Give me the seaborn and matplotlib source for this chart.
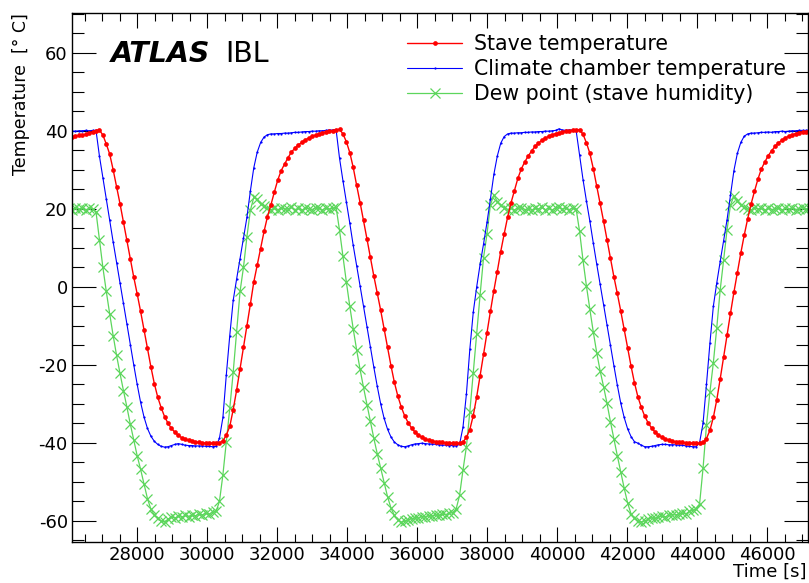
import numpy as np
import pandas as pd
import matplotlib
matplotlib.use("Agg")
import matplotlib.pyplot as plt
import seaborn as sns
from matplotlib.ticker import MultipleLocator, StrMethodFormatter

# --- logger clock (one sample every 98 s) ---
TIME_START = 26036
TIME_STEP = 98

# stave temperature [deg C]
STAVE = [
    38.3, 38.5, 38.6, 38.8, 38.9, 39.1, 39.4, 39.7,
    # cycle 1
    40.0, 40.2, 38.9, 36.6, 34.0, 30.0, 25.6, 21.3, 16.6, 12.0,
    7.2, 2.5, -1.8, -6.3, -11.0, -15.8, -20.5, -24.8, -28.3, -31.0,
    -33.3, -35.0, -36.3, -37.3, -38.1, -38.7, -39.1, -39.4, -39.6, -39.8,
    -39.9, -40.0, -40.1, -40.1, -40.1, -40.1, -40.0, -39.5, -38.0, -35.8,
    -31.5, -26.5, -21.0, -15.5, -10.0, -4.5, 1.2, 5.5, 9.8, 14.2,
    18.0, 21.0, 24.3, 27.4, 29.8, 31.5, 33.1, 34.6, 35.5, 36.4,
    37.0, 37.7, 38.1, 38.6, 38.9, 39.2, 39.5, 39.7, 39.9, 40.0,
    # cycle 2
    40.2, 40.4, 39.2, 37.2, 34.4, 30.6, 26.0, 21.6, 17.0, 12.3,
    7.6, 2.8, -1.6, -6.0, -10.8, -15.5, -20.2, -24.5, -28.0, -30.8,
    -33.1, -34.8, -36.2, -37.2, -38.0, -38.6, -39.0, -39.3, -39.5, -39.7,
    -39.8, -39.9, -40.0, -40.0, -40.1, -40.1, -40.1, -39.8, -38.6, -36.6,
    -33.0, -28.2, -22.8, -17.3, -11.8, -6.3, -1.0, 3.9, 9.0, 13.5,
    17.8, 21.5, 24.6, 27.8, 30.2, 32.0, 33.5, 34.8, 36.0, 36.8,
    37.6, 38.1, 38.6, 39.0, 39.3, 39.5, 39.7, 39.9, 40.0, 40.1,
    # cycle 3
    40.2, 40.3, 39.1, 36.9, 34.2, 30.3, 25.8, 21.4, 16.8, 12.1,
    7.4, 2.6, -1.7, -6.2, -10.9, -15.6, -20.3, -24.6, -28.2, -30.9,
    -33.2, -34.9, -36.2, -37.2, -38.0, -38.6, -39.0, -39.3, -39.6, -39.7,
    -39.8, -39.9, -40.0, -40.0, -40.1, -40.1, -40.1, -39.9, -38.9, -36.8,
    -33.5, -29.0, -23.6, -18.0, -12.4, -6.8, -1.4, 3.6, 8.6, 13.2,
    17.4, 21.2, 24.5, 27.6, 30.2, 32.0, 33.6, 34.9, 36.0, 36.9,
    37.6, 38.2, 38.6, 39.0, 39.3, 39.5, 39.7, 39.8, 39.9,
]

# climate chamber temperature [deg C]
CHAMBER = [
    39.8, 39.9, 39.9, 40.0, 40.0, 40.1, 40.0, 40.1,
    # cycle 1
    40.1, 33.5, 28.0, 22.5, 17.0, 11.5, 6.2, 1.0, -4.2, -9.5,
    -14.8, -20.0, -25.0, -29.6, -33.4, -36.3, -38.3, -39.6, -40.4, -40.9,
    -41.1, -41.0, -40.7, -40.4, -40.2, -40.4, -40.6, -40.7, -40.7, -40.8,
    -40.8, -40.8, -40.9, -40.9, -41.0, -40.9, -38.8, -33.5, -22.5, -12.5,
    -3.5, 2.0, 7.2, 12.5, 17.8, 24.5, 30.5, 34.5, 37.0, 38.4,
    39.0, 39.2, 39.2, 39.3, 39.3, 39.4, 39.4, 39.5, 39.6, 39.6,
    39.7, 39.8, 39.8, 39.9, 39.9, 40.0, 40.0, 40.1, 40.2, 40.2,
    # cycle 2
    40.3, 33.0, 27.2, 21.8, 16.3, 10.6, 5.4, 0.2, -5.0, -10.2,
    -15.4, -20.6, -25.5, -30.0, -33.7, -36.5, -38.5, -39.8, -40.5, -40.9,
    -41.0, -40.8, -40.5, -40.3, -40.2, -40.1, -40.2, -40.3, -40.3, -40.4,
    -40.5, -40.6, -40.6, -40.7, -40.7, -40.8, -40.4, -36.0, -27.5, -16.0,
    -6.5, 0.0, 5.8, 11.0, 16.5, 22.5, 28.8, 33.5, 36.8, 38.5,
    39.2, 39.4, 39.4, 39.5, 39.5, 39.6, 39.6, 39.7, 39.7, 39.8,
    39.8, 39.9, 39.9, 40.0, 40.1, 40.5, 40.2, 40.1, 40.2, 40.2,
    # cycle 3
    40.0, 33.8, 27.5, 22.0, 16.8, 11.2, 5.8, 0.6, -4.6, -9.8,
    -15.0, -20.2, -25.2, -29.8, -33.5, -36.4, -38.4, -39.7, -40.1, -40.6,
    -41.0, -41.0, -40.9, -40.7, -40.5, -40.4, -40.4, -40.5, -40.5, -40.5,
    -40.6, -40.6, -40.8, -40.9, -41.0, -41.0, -39.9, -35.0, -25.0, -14.5,
    -5.0, 1.0, 6.5, 11.8, 17.2, 23.5, 29.8, 34.2, 37.0, 38.6,
    39.2, 39.4, 39.4, 39.5, 39.6, 39.6, 39.7, 39.6, 39.8, 39.8,
    39.9, 39.8, 39.9, 40.0, 40.0, 40.1, 40.1, 40.1, 40.2,
]

# dew point from stave humidity [deg C]
DEWPOINT = [
    20.1, 19.8, 20.3, 19.9, 20.2, 19.7, 20.1, 20.0,
    # cycle 1
    19.2, 12.0, 5.0, -1.2, -7.0, -12.5, -17.6, -22.2, -26.6, -30.8,
    -35.2, -39.3, -43.3, -46.8, -50.5, -54.3, -57.0, -58.5, -59.4, -60.1,
    -60.2, -59.6, -59.0, -59.3, -58.8, -59.1, -58.6, -58.9, -58.4, -58.7,
    -58.3, -58.5, -58.1, -58.3, -57.8, -57.6, -55.0, -48.2, -39.8, -31.2,
    -21.9, -11.5, -1.2, 5.0, 12.8, 19.6, 22.9, 22.4, 21.2, 20.6,
    20.2, 19.8, 20.1, 19.7, 20.3, 19.9, 20.0, 20.4, 19.8, 20.1,
    19.6, 20.2, 20.0, 19.8, 20.3, 20.1, 19.7, 20.2, 19.9, 20.1,
    # cycle 2
    20.4, 14.5, 7.8, 1.2, -5.0, -10.8, -16.2, -21.2, -25.8, -30.2,
    -34.5, -38.8, -42.8, -46.5, -50.2, -53.8, -56.7, -58.6, -59.8, -60.4,
    -60.1, -59.7, -59.5, -59.2, -59.3, -58.9, -59.0, -58.7, -58.8, -58.5,
    -58.6, -58.3, -58.4, -58.0, -57.9, -57.0, -53.5, -47.0, -41.0, -32.0,
    -22.0, -12.0, -2.0, 7.5, 13.5, 21.0, 23.6, 21.8, 20.9, 20.3,
    19.8, 20.2, 19.7, 20.1, 20.3, 19.8, 20.0, 19.6, 20.2, 19.9,
    20.4, 19.8, 20.1, 19.7, 20.2, 20.5, 19.9, 20.1, 19.8, 20.2,
    # cycle 3
    19.9, 14.2, 6.8, 0.2, -5.8, -11.6, -16.9, -21.6, -25.6, -29.9,
    -34.6, -39.0, -43.3, -47.5, -51.6, -55.4, -58.2, -59.4, -60.0, -60.3,
    -60.0, -59.6, -59.2, -59.4, -59.0, -58.8, -59.0, -58.6, -58.4, -58.5,
    -58.2, -58.0, -58.2, -57.6, -57.3, -57.0, -55.6, -46.5, -35.5, -27.0,
    -19.5, -10.5, -0.8, 6.8, 14.6, 21.0, 23.2, 22.0, 21.0, 20.4,
    20.0, 19.7, 20.3, 19.9, 20.1, 19.6, 20.2, 19.8, 20.0, 20.3,
    19.7, 20.1, 19.9, 20.2, 19.8, 20.0, 20.3, 19.9, 20.1,
]

LABELS = ["Stave temperature", "Climate chamber temperature", "Dew point (stave humidity)"]

assert len(STAVE) == len(CHAMBER) == len(DEWPOINT), (len(STAVE), len(CHAMBER), len(DEWPOINT))

time = TIME_START + TIME_STEP * np.arange(len(STAVE))
df = pd.DataFrame({"Time": time, "Stave": STAVE, "Chamber": CHAMBER, "Dew": DEWPOINT})

sns.set_theme(style="ticks")
plt.rcParams["font.family"] = ["DejaVu Sans"]
plt.rcParams["axes.unicode_minus"] = False
plt.rcParams["text.color"] = "black"
plt.rcParams["axes.labelcolor"] = "black"
plt.rcParams["xtick.color"] = "black"
plt.rcParams["ytick.color"] = "black"

fig = plt.figure(figsize=(8.09, 5.83), dpi=100)
ax = fig.add_axes([72 / 809, 1 - 541.5 / 583, (808 - 72) / 809, (541.5 - 13) / 583])

# draw dew point first, stave last (on top)
sns.lineplot(data=df, x="Time", y="Dew", ax=ax, color="#5cd65c", linewidth=0.9,
             marker="x", markersize=6.8, markeredgewidth=0.9, markeredgecolor="#5cd65c",
             estimator=None, sort=False)
sns.lineplot(data=df, x="Time", y="Chamber", ax=ax, color="#0000ff", linewidth=0.8,
             marker="o", markersize=1.6, markeredgewidth=0, markerfacecolor="#0000ff",
             estimator=None, sort=False)
sns.lineplot(data=df, x="Time", y="Stave", ax=ax, color="#ff0000", linewidth=1.0,
             marker="o", markersize=3.4, markeredgewidth=0, markerfacecolor="#ff0000",
             estimator=None, sort=False)

ax.set_xlim(26134, 47165)
ax.set_ylim(-65.3, 70.2)

ax.xaxis.set_major_locator(MultipleLocator(2000))
ax.xaxis.set_minor_locator(MultipleLocator(500))
ax.yaxis.set_major_locator(MultipleLocator(20))
ax.yaxis.set_minor_locator(MultipleLocator(5))
ax.xaxis.set_major_formatter(StrMethodFormatter("{x:.0f}"))
ax.yaxis.set_major_formatter(StrMethodFormatter("{x:.0f}"))

ax.tick_params(which="both", direction="in", top=True, right=True, width=0.8, color="black")
ax.tick_params(axis="x", which="major", length=11, pad=3, labelsize=13, labelcolor="black")
ax.tick_params(axis="x", which="minor", length=5.8)
ax.tick_params(axis="y", which="major", length=17, pad=3, labelsize=13, labelcolor="black")
ax.tick_params(axis="y", which="minor", length=8.5)
for sp in ax.spines.values():
    sp.set_linewidth(1.0)
    sp.set_color("black")

ax.set_ylabel("Temperature  [° C]", fontsize=12.5, loc="top", color="black")
ax.yaxis.set_label_coords(-0.057, 1.0)
ax.set_xlabel("Time [s]", fontsize=13, loc="right", color="black")
ax.xaxis.set_label_coords(0.998, -0.041)

# legend in the order of the reference
lines = ax.get_lines()
leg = ax.legend(handles=[lines[2], lines[1], lines[0]], labels=LABELS,
                loc="upper left", bbox_to_anchor=(407 / 809, 1 - 34.5 / 583),
                bbox_transform=fig.transFigure, frameon=False, fontsize=14.8,
                borderpad=0, borderaxespad=0, handlelength=2.68, handletextpad=0.56,
                labelspacing=0.23, numpoints=1)
for t in leg.get_texts():
    t.set_color("black")

fig.text(0.137, 1 - 62.3 / 583, "ATLAS", fontsize=20.5, fontweight="bold",
         fontstyle="italic", va="baseline", ha="left", color="black")
fig.text(0.278, 1 - 62.3 / 583, "IBL", fontsize=20.5, va="baseline", ha="left", color="black")

fig.savefig("out.png", dpi=100)
